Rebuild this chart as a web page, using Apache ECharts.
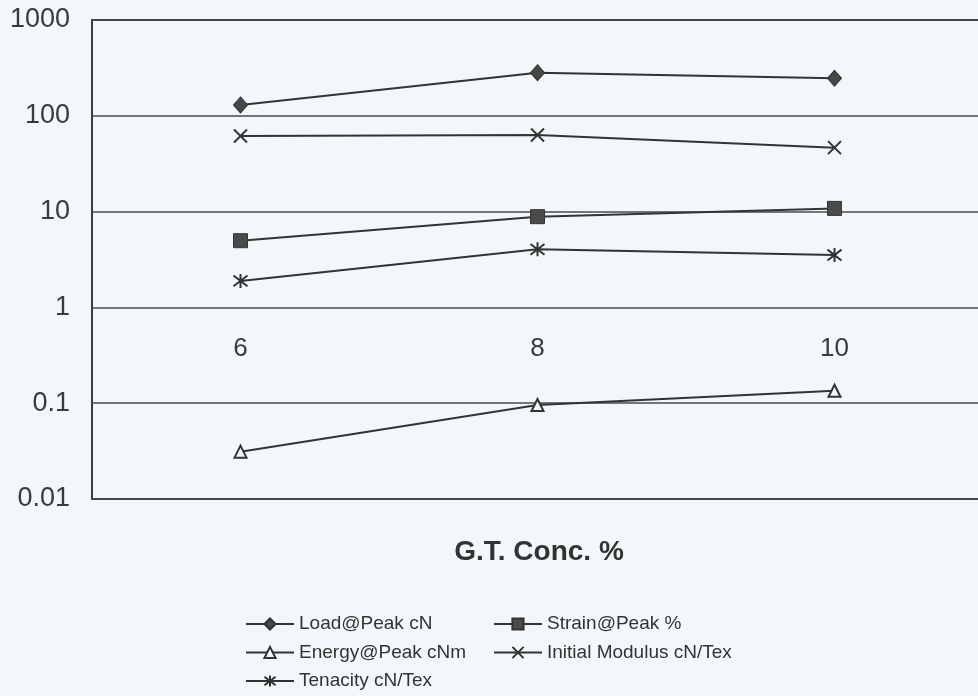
<!DOCTYPE html>
<html>
<head>
<meta charset="utf-8">
<script src="https://cdn.jsdelivr.net/npm/echarts@6/dist/echarts.min.js"></script>
<style>
  html, body { margin: 0; padding: 0; background: #f2f7fa; }
  #chart { width: 978px; height: 696px; }
</style>
</head>
<body>
<div id="chart"></div>
<script>
// G.T. concentration levels (%)
const concentrations = ['6', '8', '10'];

// Measured properties at each concentration
const loadAtPeak = [130, 282, 246];          // cN
const strainAtPeak = [4.97, 8.85, 10.8];     // %
const energyAtPeak = [0.0312, 0.0957, 0.135]; // cN.m
const initialModulus = [61.5, 63, 46.5];     // cN/Tex
const tenacity = [1.89, 4.04, 3.52];         // cN/Tex

// Log-scale tick labels
const yTickLabels = ['0.01', '0.1', '1', '10', '100', '1000'];

const ink = '#333333';
const fontFamily = '"Liberation Sans", Arial, sans-serif';

const crossPath = 'path://M0,0L10,10M10,0L0,10';
const starPath = 'path://M0,0L10,10M10,0L0,10M5,-1.5L5,11.5';

function lineSeries(name, data, symbol, size, itemStyle) {
  return {
    name: name,
    type: 'line',
    data: data,
    symbol: symbol,
    symbolSize: size,
    showAllSymbol: true,
    lineStyle: { color: ink, width: 2 },
    itemStyle: itemStyle,
    emphasis: { disabled: true },
    z: 3
  };
}

const legendCommon = {
  orient: 'vertical',
  top: 614,
  padding: 0,
  itemWidth: 48, itemHeight: 14, itemGap: 8.5,
  textStyle: { color: ink, fontSize: 19, fontFamily: fontFamily, lineHeight: 20 },
  selectedMode: false
};

const chart = echarts.init(document.getElementById('chart'), null, { renderer: 'canvas' });

chart.setOption({
  backgroundColor: '#f2f7fa',
  animation: false,
  grid: {
    left: 92, top: 20, width: 891, height: 479,
    outerBoundsMode: 'none',
    containLabel: false,
    show: true, borderColor: '#3c3c3c', borderWidth: 2, backgroundColor: 'transparent'
  },
  xAxis: {
    type: 'category',
    data: concentrations,
    boundaryGap: true,
    offset: -190,
    axisLine: { show: false },
    axisTick: { show: false },
    axisLabel: { color: '#3a3a3a', fontSize: 26, fontFamily: fontFamily, margin: 27 },
    splitLine: { show: false }
  },
  yAxis: {
    type: 'log',
    logBase: 10,
    min: 0.01,
    max: 1000,
    axisLine: { show: false },
    axisTick: { show: false },
    axisLabel: {
      color: '#3a3a3a', fontSize: 27, fontFamily: fontFamily, margin: 22,
      formatter: function (v) {
        const idx = Math.round(Math.log10(v)) + 2;
        return yTickLabels[idx] !== undefined ? yTickLabels[idx] : '';
      }
    },
    splitLine: { show: true, lineStyle: { color: '#4a4a4a', width: 1.5 } }
  },
  legend: [
    Object.assign({}, legendCommon, {
      left: 245,
      data: ['Load@Peak cN', 'Energy@Peak cNm', 'Tenacity cN/Tex']
    }),
    Object.assign({}, legendCommon, {
      left: 493,
      data: ['Strain@Peak %', 'Initial Modulus cN/Tex']
    })
  ],
  graphic: [
    {
      type: 'text',
      x: 539, y: 552,
      style: {
        text: 'G.T. Conc. %',
        font: 'bold 28px "Liberation Sans", Arial, sans-serif',
        fill: ink,
        textAlign: 'center',
        textVerticalAlign: 'middle'
      }
    }
  ],
  series: [
    lineSeries('Load@Peak cN', loadAtPeak, 'diamond', [14, 16], { color: '#474747', borderColor: ink, borderWidth: 1 }),
    lineSeries('Strain@Peak %', strainAtPeak, 'rect', 14, { color: '#4b4b4b', borderColor: ink, borderWidth: 1 }),
    lineSeries('Energy@Peak cNm', energyAtPeak, 'triangle', 12, { color: '#f2f7fa', borderColor: ink, borderWidth: 2 }),
    lineSeries('Initial Modulus cN/Tex', initialModulus, crossPath, 13, { color: 'none', borderColor: ink, borderWidth: 2 }),
    lineSeries('Tenacity cN/Tex', tenacity, starPath, 14, { color: 'none', borderColor: ink, borderWidth: 2 })
  ]
});
</script>
</body>
</html>
